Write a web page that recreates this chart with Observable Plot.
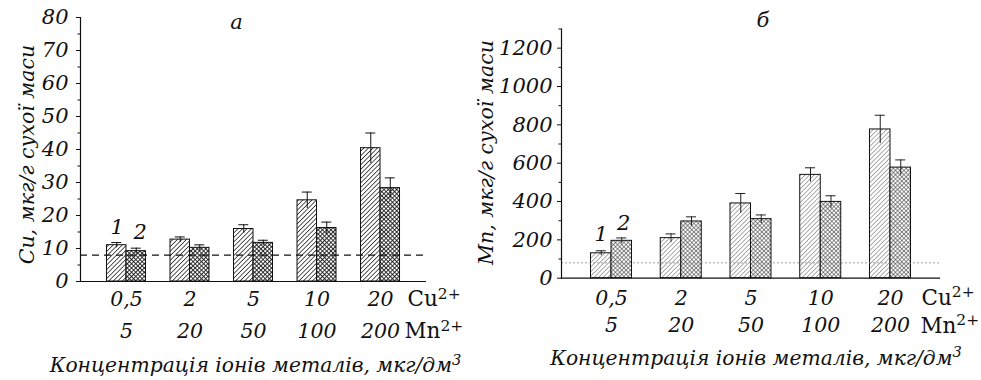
<!DOCTYPE html>
<html><head><meta charset="utf-8">
<script src="https://cdn.jsdelivr.net/npm/d3@7"></script>
<script src="https://cdn.jsdelivr.net/npm/@observablehq/plot@0.6"></script>
<style>
html,body{margin:0;padding:0;background:#fff;}
#wrap{position:relative;width:981px;height:380px;overflow:hidden;}
#wrap svg{position:absolute;top:0;}
</style></head>
<body><div id="wrap"></div>
<script>
// ---- data ----
const cuConc = ["0,5", "2", "5", "10", "20"];
const mnConc = ["5", "20", "50", "100", "200"];
const cuSeries1 = [11.0, 12.7, 15.9, 24.6, 40.4];
const cuSeries1Err = [0.8, 0.8, 1.3, 2.5, 4.6];
const cuSeries2 = [9.2, 10.2, 11.7, 16.2, 28.3];
const cuSeries2Err = [0.9, 0.9, 0.8, 1.8, 3.1];
const mnSeries1 = [130, 209, 390, 539, 776];
const mnSeries1Err = [13, 22, 52, 37, 74];
const mnSeries2 = [195, 296, 308, 398, 577];
const mnSeries2Err = [15, 24, 22, 32, 40];
const cuBackground = [8];
const mnBackground = [80];
const cuTicks = [0, 10, 20, 30, 40, 50, 60, 70, 80];
const cuMinor = [5, 15, 25, 35, 45, 55, 65, 75];
const mnTicks = [0, 200, 400, 600, 800, 1000, 1200];
const mnMinor = [100, 300, 500, 700, 900, 1100, 1300];
const seriesLabels = ["1", "2"];
const ionLabels = ["Cu^2+", "Mn^2+"];
const xTitle = "Концентрація іонів металів, мкг/дм^3";

const FONT = "DejaVu Serif";

function panel(o) {
  const rows = cuConc.map((c, i) => ({c, m: mnConc[i], v1: o.s1[i], e1: o.e1[i], v2: o.s2[i], e2: o.e2[i]}));
  const bw = o.bw, half = bw / 2, q = bw / 4, cap = 5;
  const last = [rows[rows.length - 1]];
  const first = [rows[0]];
  const T = {fontFamily: FONT, fontStyle: "italic", lineAnchor: "middle"};
  const svg = Plot.plot({
    width: o.width, height: 380,
    marginLeft: o.ml, marginRight: o.mr, marginTop: o.mt, marginBottom: o.mb,
    style: {background: "transparent", overflow: "visible", fontFamily: FONT, fontStyle: "italic", fontSize: "20px", color: "#111"},
    x: {type: "band", domain: cuConc, paddingInner: o.pi, paddingOuter: o.po, round: false, axis: null},
    y: {domain: [0, o.ymax], axis: null},
    marks: [
      Plot.barY(rows, {x: "c", y: "v1", fill: `url(#${o.id}A)`, stroke: "#111", strokeWidth: 1, insetRight: half}),
      Plot.barY(rows, {x: "c", y: "v2", fill: `url(#${o.id}B)`, stroke: "#111", strokeWidth: 1, insetLeft: half}),
      Plot.ruleY(o.bg, {stroke: o.bgStroke, strokeWidth: o.bgWidth, strokeDasharray: o.bgDash}),
      Plot.ruleX(rows, {x: "c", y1: d => d.v1 - d.e1, y2: d => d.v1 + d.e1, dx: -q, stroke: o.errStroke, strokeWidth: 1}),
      Plot.ruleX(rows, {x: "c", y1: d => d.v2 - d.e2, y2: d => d.v2 + d.e2, dx: q, stroke: o.errStroke, strokeWidth: 1}),
      Plot.tickY(rows, {x: "c", y: d => d.v1 + d.e1, insetLeft: q - cap, insetRight: bw - q - cap, stroke: o.errStroke, strokeWidth: 1}),
      Plot.tickY(rows, {x: "c", y: d => d.v2 + d.e2, insetLeft: 3 * q - cap, insetRight: q - cap, stroke: o.errStroke, strokeWidth: 1}),
      Plot.ruleY([0], {stroke: "#111", strokeWidth: 1.2}),
      Plot.frame({anchor: "left", stroke: "#111", strokeWidth: 1.2}),
      Plot.axisY({ticks: o.ticks, tickSize: 4, tickPadding: o.tp, fontSize: 21, tickFormat: d => String(d), label: null, stroke: "#111"}),
      Plot.axisY({ticks: o.minor, tickSize: 2.5, tickFormat: () => "", label: null, stroke: "#111"}),
      // series labels 1, 2
      Plot.text(first, {...T, x: "c", y: d => d.v1 + d.e1, text: () => seriesLabels[0], dx: -q + o.l1dx, dy: o.l1dy, fontSize: 21}),
      Plot.text(first, {...T, x: "c", y: d => d.v2 + d.e2, text: () => seriesLabels[1], dx: q + o.l2dx, dy: o.l2dy, fontSize: 21}),
      // x tick label rows
      Plot.text(rows, {...T, x: "c", text: "c", frameAnchor: "bottom", dy: o.row1, fontSize: 20.5}),
      Plot.text(rows, {...T, x: "c", text: "m", frameAnchor: "bottom", dy: o.row2, fontSize: 20.5}),
      Plot.text(last, {...T, x: "c", text: () => ionLabels[0], frameAnchor: "bottom", dy: o.row1, dx: o.cuDx, textAnchor: "start", fontStyle: "normal", fontSize: 21.5}),
      Plot.text(last, {...T, x: "c", text: () => ionLabels[1], frameAnchor: "bottom", dy: o.row2, dx: o.mnDx, textAnchor: "start", fontStyle: "normal", fontSize: 21.5}),
      // axis titles
      Plot.text([xTitle], {...T, frameAnchor: "bottom", textAnchor: "middle", dy: o.titleDy, dx: o.titleDx, fontSize: 20.3}),
      Plot.text([o.ylabel], {...T, frameAnchor: "left", textAnchor: "middle", rotate: -90, dx: o.ylDx, dy: o.ylDy, fontSize: 20.5}),
      Plot.text([o.title], {...T, frameAnchor: "top", textAnchor: "middle", dx: o.tDx, dy: o.tDy, fontSize: 21})
    ]
  });
  d3.select(svg).insert("defs", ":first-child").html(o.defs);
  // italic serif for every text except the ion symbols
  d3.select(svg).selectAll("text").each(function () {
    const isIon = this.textContent.startsWith("Cu^") || this.textContent.startsWith("Mn^");
    this.style.fontFamily = FONT;
    this.style.fontStyle = isIon ? "normal" : "italic";
  });
  d3.select(svg).selectAll("text").filter(function () { return this.textContent.includes("^"); }).each(function () {
    const t = d3.select(this);
    const [base, sup] = t.text().split("^");
    t.text(null);
    t.append("tspan").text(base);
    t.append("tspan").attr("dy", "-0.5em").attr("font-size", "0.72em").text(sup);
  });
  svg.style.left = o.left + "px";
  return svg;
}

const defsCu = `
<pattern id="cuA" width="3.2" height="3.2" patternUnits="userSpaceOnUse" patternTransform="rotate(45)">
  <line x1="0" y1="0" x2="0" y2="3.2" stroke="#111" stroke-width="1.4"/></pattern>
<pattern id="cuB" width="3" height="3" patternUnits="userSpaceOnUse" patternTransform="rotate(45)">
  <rect width="3" height="3" fill="#fff"/>
  <line x1="0" y1="0" x2="0" y2="3" stroke="#111" stroke-width="1.7"/>
  <line x1="0" y1="0" x2="3" y2="0" stroke="#111" stroke-width="1.7"/></pattern>`;
const defsMn = `
<pattern id="mnA" width="3.2" height="3.2" patternUnits="userSpaceOnUse" patternTransform="rotate(45)">
  <line x1="0" y1="0" x2="0" y2="3.2" stroke="#333" stroke-width="0.8"/></pattern>
<pattern id="mnB" width="3" height="3" patternUnits="userSpaceOnUse" patternTransform="rotate(45)">
  <rect width="3" height="3" fill="#fff"/>
  <line x1="0" y1="0" x2="0" y2="3" stroke="#333" stroke-width="1.1"/>
  <line x1="0" y1="0" x2="3" y2="0" stroke="#333" stroke-width="1.1"/></pattern>`;

const wrap = document.getElementById("wrap");
wrap.append(panel({
  id: "cu", left: 0, width: 470, ml: 80, mr: 44, mt: 17, mb: 99,
  pi: 0.386, po: 0.417, bw: 39, ymax: 80,
  s1: cuSeries1, e1: cuSeries1Err, s2: cuSeries2, e2: cuSeries2Err,
  bg: cuBackground, bgStroke: "#111", bgWidth: 1.2, bgDash: "7,5",
  errStroke: "#111", ticks: cuTicks, minor: cuMinor, tp: 8,
  l1dx: 0.5, l1dy: -15, l2dx: 4, l2dy: -16,
  row1: 18, row2: 50, cuDx: 27, mnDx: 24,
  titleDy: 84, titleDx: 2,
  ylabel: "Cu, мкг/г сухої маси", ylDx: -53, ylDy: 5,
  title: "а", tDx: -17, tDy: 5, defs: defsCu
}));
wrap.append(panel({
  id: "mn", left: 450, width: 531, ml: 111, mr: 41, mt: 28.5, mb: 102.3,
  pi: 0.412, po: 0.423, bw: 41, ymax: 1300,
  s1: mnSeries1, e1: mnSeries1Err, s2: mnSeries2, e2: mnSeries2Err,
  bg: mnBackground, bgStroke: "#888", bgWidth: 0.8, bgDash: "2,2",
  errStroke: "#222", ticks: mnTicks, minor: mnMinor, tp: 5,
  l1dx: 0, l1dy: -17, l2dx: 2, l2dy: -15,
  row1: 20, row2: 47.5, cuDx: 31, mnDx: 30,
  titleDy: 80, titleDx: 5,
  ylabel: "Mn, мкг/г сухої маси", ylDx: -75, ylDy: -1,
  title: "б", tDx: 12, tDy: -8.5, defs: defsMn
}));
</script>
</body></html>
